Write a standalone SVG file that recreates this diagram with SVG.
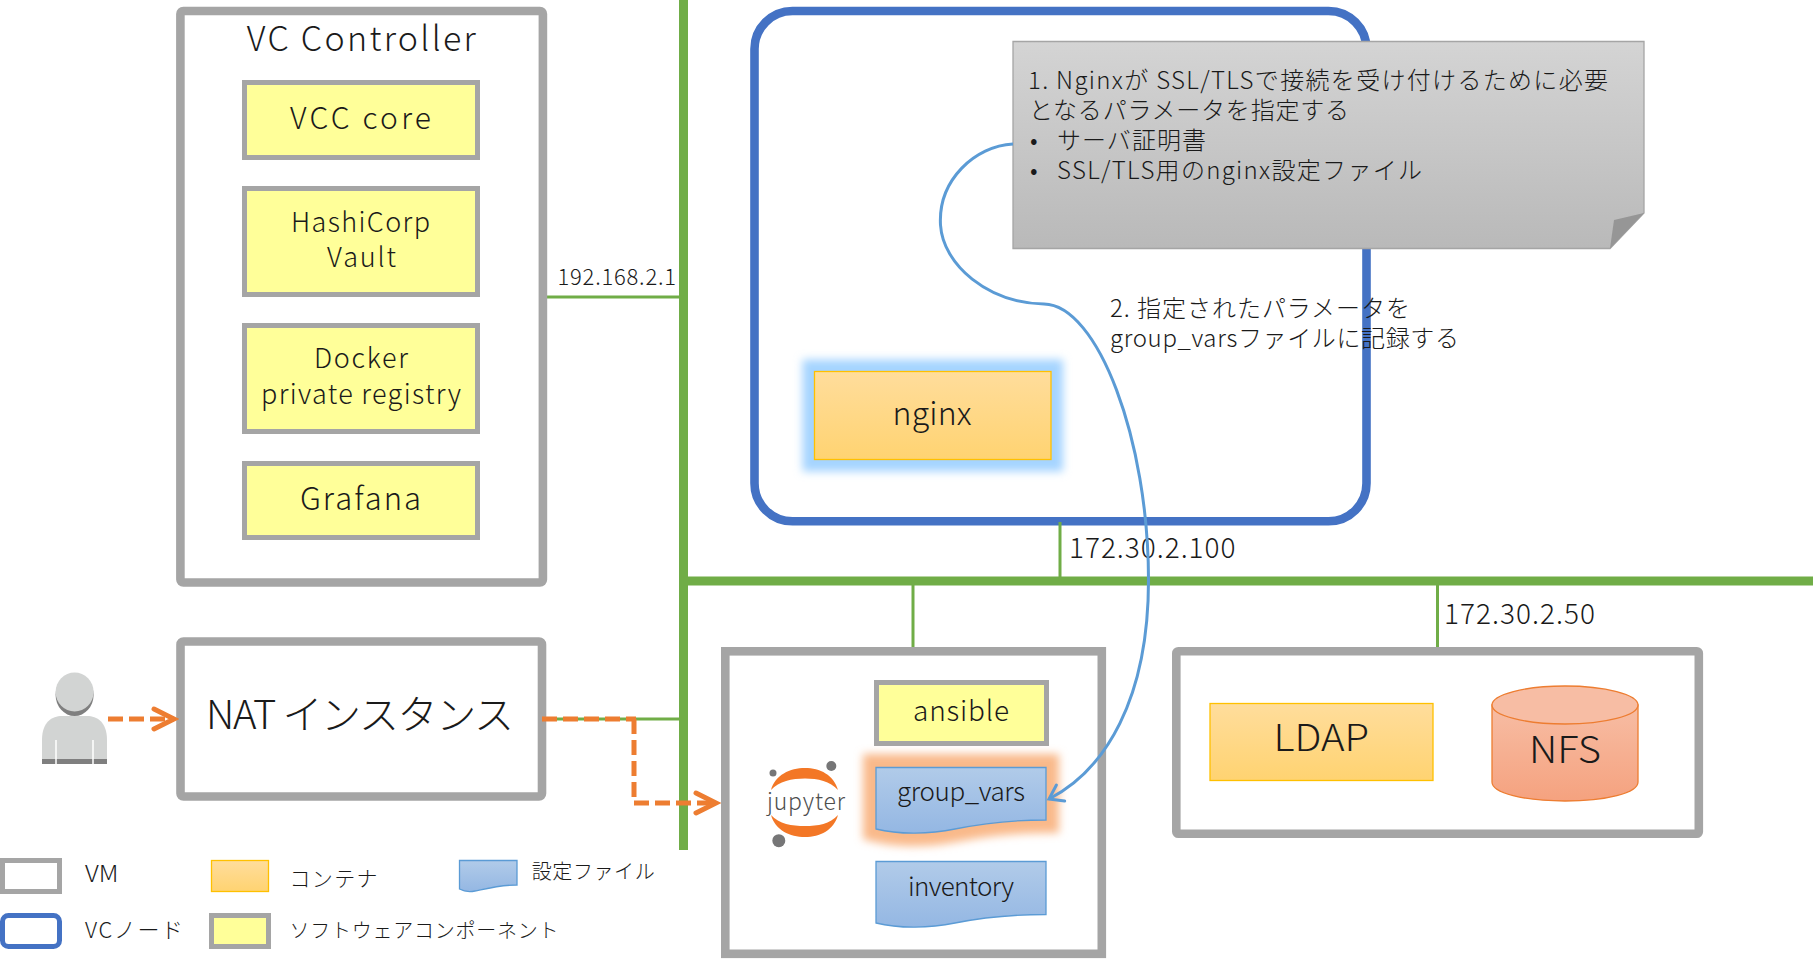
<svg xmlns="http://www.w3.org/2000/svg" width="1813" height="959" viewBox="0 0 1813 959">
<style>
text{font-family:"Noto Sans CJK JP","Noto Sans",sans-serif;fill:#1a1a1a;font-weight:300}
.vm{fill:#fff;stroke:#a5a5a5;stroke-width:8.6}
.sw{fill:#ffff99;stroke:#a5a5a5;stroke-width:5}
.ct{fill:url(#gO);stroke:#ffc000;stroke-width:1.3}
.doc{fill:url(#gB);stroke:#5b9bd5;stroke-width:1.3}
.net{stroke:#70ad47;fill:none}
.dash{stroke:#ed7d31;stroke-width:5;fill:none;stroke-dasharray:15 6}
</style>
<defs>
<linearGradient id="gO" x1="0" y1="0" x2="0" y2="1"><stop offset="0" stop-color="#ffdd9c"/><stop offset="1" stop-color="#ffd371"/></linearGradient>
<linearGradient id="gB" x1="0" y1="0" x2="0" y2="1"><stop offset="0" stop-color="#b1cbe9"/><stop offset="1" stop-color="#94b7e3"/></linearGradient>
<linearGradient id="gN" x1="0" y1="0" x2="0" y2="1"><stop offset="0" stop-color="#f7bda4"/><stop offset="1" stop-color="#f5a27f"/></linearGradient>
<linearGradient id="gG" x1="0" y1="0" x2="0" y2="1"><stop offset="0" stop-color="#d4d4d4"/><stop offset="1" stop-color="#b9b9b9"/></linearGradient>
<filter id="gb" x="-20%" y="-40%" width="140%" height="180%"><feGaussianBlur stdDeviation="4.5"/></filter>
<marker id="ao" markerUnits="userSpaceOnUse" orient="auto" markerWidth="30" markerHeight="30" refX="25" refY="15" viewBox="0 0 30 30"><path d="M5 5L25 15L5 25" fill="none" stroke="#ed7d31" stroke-width="5" stroke-linecap="round"/></marker>
<marker id="ab" markerUnits="userSpaceOnUse" orient="auto" markerWidth="24" markerHeight="24" refX="20" refY="12" viewBox="0 0 24 24"><path d="M7 3L20 12L7 21" fill="none" stroke="#5b9bd5" stroke-width="3" stroke-linecap="round"/></marker>
</defs>
<rect width="1813" height="959" fill="#fff"/>

<g id="vc-node"><rect x="754.5" y="11" width="612" height="510.300" rx="38" fill="#fff" stroke="#4472c4" stroke-width="8.6"/></g>

<g id="connectors">
<path class="net" stroke-width="9" d="M683.500 0V850"/>
<path class="net" stroke-width="9" d="M683.500 581H1813"/>
<path class="net" stroke-width="3" d="M543 297H684M1060 522V581M913 581V647M1437.500 581V647M546 719H684"/>
</g>

<g id="vc-controller">
<rect class="vm" x="180.400" y="11" width="362.500" height="571.500" rx="3"/>
<text x="246.800" y="50.500" font-size="34" textLength="229">VC Controller</text>
</g>
<g id="vcc-core"><rect class="sw" x="244.500" y="82.500" width="233" height="75"/><text x="290" y="129" font-size="30" textLength="141">VCC core</text></g>
<g id="vault"><rect class="sw" x="244.500" y="188.500" width="233" height="106"/><text x="291" y="231.500" font-size="27" textLength="139">HashiCorp</text><text x="327" y="266.700" font-size="27" textLength="69">Vault</text></g>
<g id="registry"><rect class="sw" x="244.500" y="325.500" width="233" height="106"/><text x="314" y="368" font-size="27" textLength="94">Docker</text><text x="261" y="404" font-size="27" textLength="200">private registry</text></g>
<g id="grafana"><rect class="sw" x="244.500" y="463.500" width="233" height="74"/><text x="300" y="510" font-size="31" textLength="121">Grafana</text></g>

<text x="557.500" y="285" font-size="22" textLength="118.500">192.168.2.1</text>

<g id="nginx"><rect x="814.500" y="371.500" width="236.500" height="88" fill="#a5d4ff" stroke="#a5d4ff" stroke-width="24" filter="url(#gb)"/><rect class="ct" x="814.500" y="371.500" width="236.500" height="88"/><text x="892.600" y="425" font-size="32" textLength="79">nginx</text></g>

<g id="note">
<path d="M1013 41.500H1644V213L1610 248.500H1013Z" fill="url(#gG)" stroke="#a5a5a5" stroke-width="1.300"/>
<path d="M1644 213L1614 220L1610 248.500Z" fill="#969696"/>
<text x="1028" y="89" font-size="24" textLength="580">1. Nginxが SSL/TLSで接続を受け付けるために必要</text>
<text x="1029" y="119" font-size="24" textLength="320">となるパラメータを指定する</text>
<text x="1030" y="149" font-size="24">•</text>
<text x="1057" y="149" font-size="24" textLength="149">サーバ証明書</text>
<text x="1030" y="179" font-size="24">•</text>
<text x="1057" y="179" font-size="24" textLength="365">SSL/TLS用のnginx設定ファイル</text>
</g>

<text x="1110" y="317" font-size="24" textLength="300">2. 指定されたパラメータを</text>
<text x="1110" y="347" font-size="24" textLength="349">group_varsファイルに記録する</text>
<text x="1069" y="557.500" font-size="28" textLength="166.500">172.30.2.100</text>
<text x="1444" y="623.500" font-size="28" textLength="151">172.30.2.50</text>

<g id="nat"><rect class="vm" x="180.500" y="641.500" width="361.500" height="155" rx="3"/><text x="206" y="729" font-size="40" textLength="308">NAT インスタンス</text></g>

<g id="user">
<ellipse cx="74.600" cy="695" rx="19" ry="21" fill="#7f7f7f"/>
<ellipse cx="74.600" cy="692" rx="19" ry="19.500" fill="#d2d4d3"/>
<path d="M42 764V740C42 722 52 716 62 716H87C97 716 107 722 107 740V764Z" fill="#d2d4d3"/>
<rect x="42" y="759" width="65" height="5" fill="#7f7f7f"/>
<path d="M56 740V764M93 740V764" stroke="#fff" stroke-width="1.500"/>
</g>

<g id="jupyter-vm"><rect class="vm" x="725.300" y="651.300" width="376.500" height="302.500"/></g>
<g id="ansible"><rect class="sw" x="876.500" y="682.500" width="170" height="61"/><text x="913" y="720.700" font-size="28" textLength="96">ansible</text></g>
<g id="group-vars">
<path d="M876 767H1046V820C1005 820 975 825 955 829C930 834 900 835 876 829Z" fill="#f9b98a" stroke="#f9b98a" stroke-width="26" filter="url(#gb)"/>
<path class="doc" d="M876 767.500H1046V820C1005 820 975 825 955 829C930 834 900 835 876 829Z"/>
<text x="897" y="800.700" font-size="26" textLength="128">group_vars</text>
</g>
<g id="inventory">
<path class="doc" d="M876 861.500H1046V914.500C1005 914.500 975 919 955 923C930 928 900 929 876 923Z"/>
<text x="908" y="896" font-size="26" textLength="106">inventory</text>
</g>
<g id="jupyter">
<path d="M771 790C775 775 790 768 805 768C820 768 834 775 838 790C830 781 818 778.500 805 778.500C792 778.500 779 781 771 790Z" fill="#f37726"/>
<path d="M771 815C775 830 790 837 805 837C820 837 834 830 838 815C830 824 818 826 805 826C792 826 779 824 771 815Z" fill="#f37726"/>
<ellipse cx="831.300" cy="766" rx="5" ry="5" fill="#767677"/>
<ellipse cx="773" cy="773" rx="3.500" ry="3.500" fill="#767677"/>
<ellipse cx="778.800" cy="840.700" rx="6.500" ry="6.500" fill="#767677"/>
<text x="767" y="810" font-size="23" textLength="78" style="fill:#4e4e4e">jupyter</text>
</g>

<g id="storage-vm"><rect class="vm" x="1176.300" y="651.300" width="522.500" height="182.500" rx="2"/></g>
<g id="ldap"><rect class="ct" x="1210" y="703.500" width="223" height="77"/><text x="1273.500" y="751" font-size="37" textLength="95.500" lengthAdjust="spacingAndGlyphs">LDAP</text></g>
<g id="nfs">
<path d="M1492 705V782C1492 793 1524 801 1565 801C1606 801 1638 793 1638 782V705Z" fill="url(#gN)" stroke="#ed7d31" stroke-width="1.300"/>
<ellipse cx="1565" cy="705" rx="73" ry="19" fill="#f7bda4" stroke="#ed7d31" stroke-width="1.300"/>
<text x="1529" y="762.700" font-size="37" textLength="72" lengthAdjust="spacingAndGlyphs">NFS</text>
</g>

<g id="note-connector">
<path d="M1013 144C975 146 938 180 940.500 225C943 265 988 303 1044 304C1098 305 1148.500 440 1148.500 580C1148.500 700 1105 770 1049 799" fill="none" stroke="#5b9bd5" stroke-width="3" marker-end="url(#ab)"/>
</g>

<g id="access">
<path class="dash" d="M108 719H174" marker-end="url(#ao)"/>
<path class="dash" d="M542 719H636"/>
<path class="dash" d="M634 719V802"/>
<path class="dash" d="M634 803H716" marker-end="url(#ao)"/>
</g>

<g id="legend">
<rect x="2.500" y="860.500" width="57" height="31" fill="#fff" stroke="#a5a5a5" stroke-width="5"/>
<text x="85" y="882.300" font-size="23" textLength="33.500" lengthAdjust="spacingAndGlyphs">VM</text>
<rect class="ct" x="211.500" y="860.500" width="57" height="31"/>
<text x="289.500" y="885.700" font-size="21" textLength="88">コンテナ</text>
<path class="doc" d="M459.500 860.500H517V885C500 885 485 889 475 891C470 892 465 892 459.500 889Z"/>
<text x="531.700" y="879" font-size="20" textLength="123">設定ファイル</text>
<rect x="2.500" y="915.500" width="57" height="31" rx="6" fill="#fff" stroke="#4472c4" stroke-width="5"/>
<text x="85" y="938" font-size="22" textLength="98">VCノード</text>
<rect class="sw" x="211.500" y="915.500" width="57" height="31"/>
<text x="289.500" y="937.700" font-size="20" textLength="269">ソフトウェアコンポーネント</text>
</g>
</svg>
